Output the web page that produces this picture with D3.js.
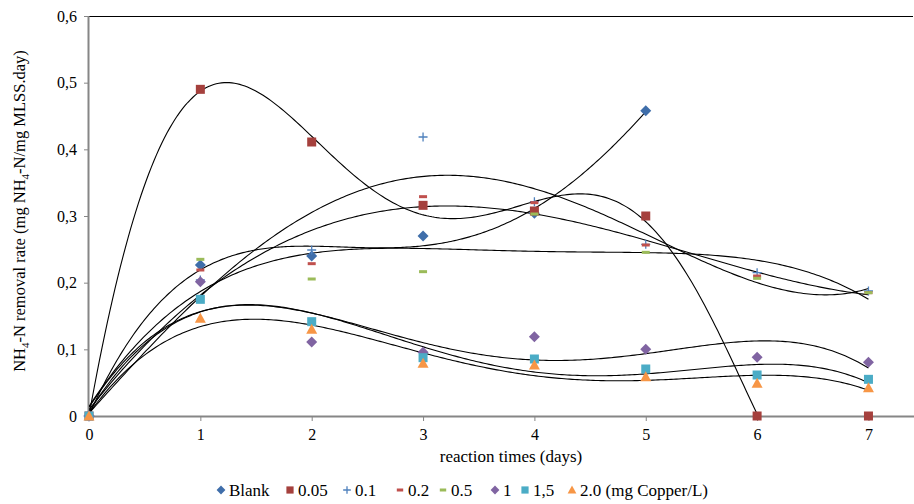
<!DOCTYPE html>
<html><head><meta charset="utf-8">
<script src="https://cdn.jsdelivr.net/npm/d3@7"></script>
<style>body{margin:0;background:#fff}svg{display:block}text{font-family:"Liberation Serif","Times New Roman",serif}</style>
</head><body><svg id="c" width="914" height="504"></svg>
<script>
const days = [0,1,2,3,4,5,6,7];
const yTicks = [0,0.1,0.2,0.3,0.4,0.5,0.6];
const yTickLabels = ["0","0,1","0,2","0,3","0,4","0,5","0,6"];
const seriesNames = ["Blank","0.05","0.1","0.2","0.5","1","1,5","2.0 (mg Copper/L)"];
const blank   = [0,0.2265,0.240,0.270,0.304,0.458];
const cu005   = [0,0.490,0.411,0.316,0.3075,0.300,0,0];
const cu01    = [0,0.204,0.249,0.4185,0.3215,0.2575,0.215,0.1875];
const cu02    = [0,0.219,0.2285,0.329,0.320,0.2565,0.210,0.185];
const cu05    = [0,0.235,0.2055,0.2165,0.303,0.2455,0.2065,0.185];
const cu1     = [0,0.2015,0.111,0.0955,0.119,0.100,0.088,0.0805];
const cu15    = [0,0.175,0.1415,0.0875,0.0855,0.0705,0.0615,0.055];
const cu2     = [0,0.1465,0.130,0.079,0.0765,0.059,0.049,0.0425];
const allValues = [blank,cu005,cu01,cu02,cu05,cu1,cu15,cu2];
const colors = ["#3F6EAA","#A5403D","#4F81BD","#C0504D","#9BBB59","#8064A2","#4BACC6","#F79646"];
const shapes = ["diamond","square","plus","dash","dash","diamond","square","triangle"];
const trendOrders = [4,6,4,4,4,4,4,4];

const svg = d3.select("#c");
const L=89,R=913,T=16,B=416;
const x = d3.scaleLinear().domain([0,7.4]).range([L,R]);
const y = d3.scaleLinear().domain([0,0.6]).range([B,T]);

svg.append("line").attr("x1",L).attr("x2",R).attr("y1",T+0.5).attr("y2",T+0.5).attr("stroke","#000").attr("stroke-width",1);

const yAxis = svg.append("g").attr("transform",`translate(${L},0)`)
  .call(d3.axisLeft(y).tickValues(yTicks).tickFormat((d,i)=>yTickLabels[i]).tickSize(5).tickPadding(7));
const xAxis = svg.append("g").attr("transform",`translate(0,${B})`)
  .call(d3.axisBottom(x).tickValues(days).tickFormat(d3.format("d")).tickSize(5).tickPadding(8));
[yAxis,xAxis].forEach(g=>{
  g.select(".domain").attr("stroke","#868686").attr("stroke-width",2);
  g.selectAll(".tick line").attr("stroke","#868686").attr("stroke-width",1);
  g.selectAll("text").attr("font-size",16).attr("fill","#000").attr("font-family","Liberation Serif");
});
xAxis.select(".domain").attr("d",`M${L},0.5H${R+1}`);
yAxis.select(".domain").attr("d",`M-0.5,${B}V${T}`);

function polyfit(xs,ys,n){
  const m=n+1, A=[];
  for(let i=0;i<m;i++){A.push(new Array(m+1).fill(0));}
  for(let k=0;k<xs.length;k++){
    for(let i=0;i<m;i++){
      for(let j=0;j<m;j++) A[i][j]+=Math.pow(xs[k],i+j);
      A[i][m]+=ys[k]*Math.pow(xs[k],i);
    }
  }
  for(let i=0;i<m;i++){
    let p=i; for(let r=i+1;r<m;r++) if(Math.abs(A[r][i])>Math.abs(A[p][i])) p=r;
    [A[i],A[p]]=[A[p],A[i]];
    for(let r=0;r<m;r++){ if(r===i) continue; const f=A[r][i]/A[i][i]; for(let c=i;c<=m;c++) A[r][c]-=f*A[i][c]; }
  }
  return A.map((row,i)=>row[m]/row[i]);
}
svg.append("clipPath").attr("id","clip").append("rect").attr("x",L).attr("y",T).attr("width",R-L).attr("height",B-T);
const curves = svg.append("g").attr("clip-path","url(#clip)");
const line = d3.line().x(d=>x(d[0])).y(d=>y(d[1]));
allValues.forEach((vals,si)=>{
  const xs = days.slice(0,vals.length);
  const c = polyfit(xs,vals,Math.min(trendOrders[si],vals.length-2));
  const xmax = xs[xs.length-1];
  const pts = d3.range(0,xmax+0.0001,xmax/300).map(t=>[t,c.reduce((s,a,i)=>s+a*Math.pow(t,i),0)]);
  curves.append("path").attr("d",line(pts)).attr("fill","none").attr("stroke","#000").attr("stroke-width",1.1);
});

function drawMarker(g,shape,color,cx,cy,s){
  s = s||1;
  if(shape==="diamond") g.append("path").attr("d",`M${cx},${cy-5.5*s}L${cx+5.5*s},${cy}L${cx},${cy+5.5*s}L${cx-5.5*s},${cy}Z`).attr("fill",color);
  else if(shape==="square") g.append("rect").attr("x",cx-4.5*s).attr("y",cy-4.5*s).attr("width",9*s).attr("height",9*s).attr("fill",color);
  else if(shape==="triangle") g.append("path").attr("d",`M${cx},${cy-5.5*s}L${cx+5.5*s},${cy+4.5*s}L${cx-5.5*s},${cy+4.5*s}Z`).attr("fill",color);
  else if(shape==="plus") g.append("path").attr("d",`M${cx-4.5*s},${cy}H${cx+4.5*s}M${cx},${cy-4.5*s}V${cy+4.5*s}`).attr("stroke",color).attr("stroke-width",1.3);
  else if(shape==="dash") g.append("rect").attr("x",cx-4*s).attr("y",cy-1.5).attr("width",8*s).attr("height",3).attr("fill",color);
}
const mk = svg.append("g");
allValues.forEach((vals,si)=>{
  vals.forEach((v,i)=>drawMarker(mk,shapes[si],colors[si],x(days[i]),y(v)));
});

svg.append("text").attr("x",511).attr("y",462).attr("text-anchor","middle").attr("font-size",17).text("reaction times (days)");
const yt = svg.append("text").attr("transform","translate(25,211) rotate(-90)").attr("text-anchor","middle").attr("font-size",16.5);
yt.append("tspan").text("NH");
yt.append("tspan").attr("font-size",11).attr("dy",4).text("4");
yt.append("tspan").attr("dy",-4).text("-N removal rate (mg NH");
yt.append("tspan").attr("font-size",11).attr("dy",4).text("4");
yt.append("tspan").attr("dy",-4).text("-N/mg MLSS.day)");

const lg = svg.append("g");
const legX = [221,290,347,400,443,495,525,572];
seriesNames.forEach((n,i)=>{
  const sh = shapes[i];
  drawMarker(lg,sh,colors[i],legX[i],490,sh==="plus"?0.85:0.8);
  lg.append("text").attr("x",legX[i]+8).attr("y",496).attr("font-size",17).text(n);
});
</script></body></html>
